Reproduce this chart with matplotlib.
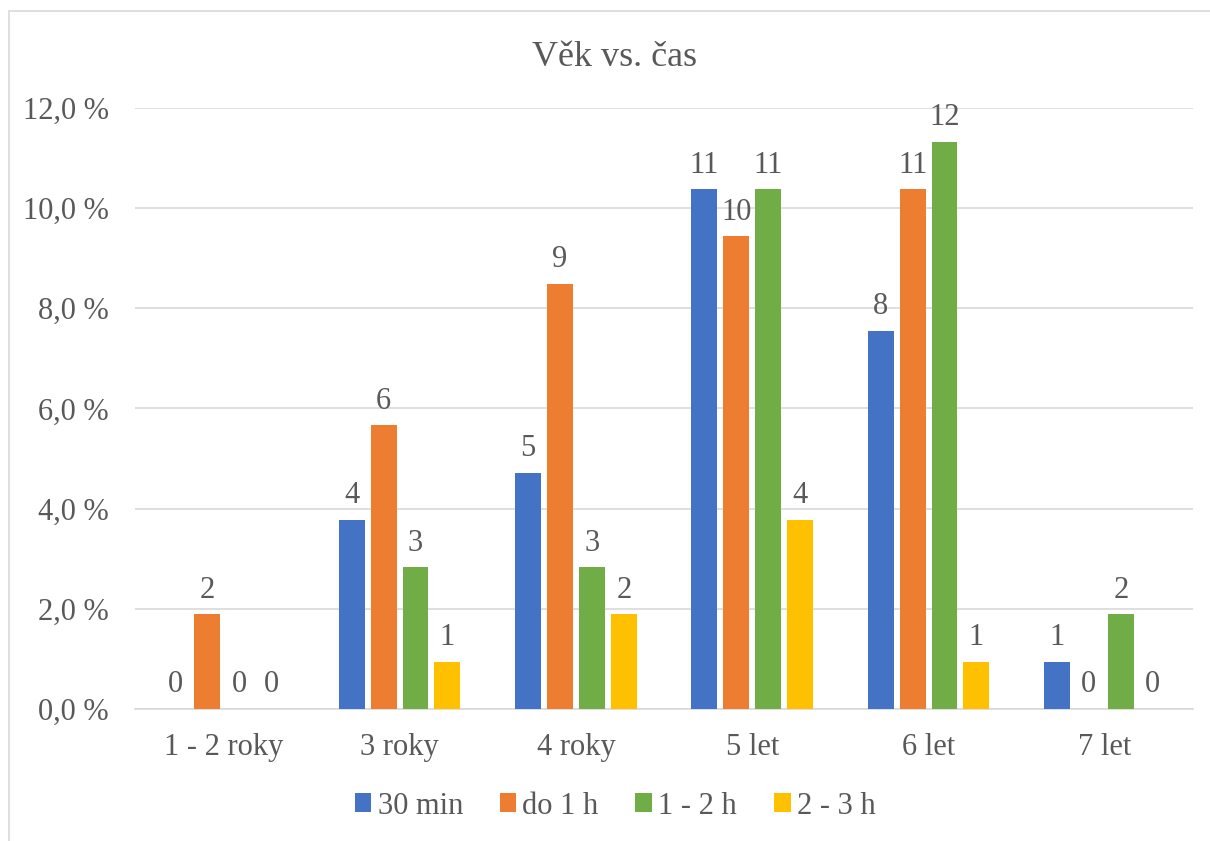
import matplotlib.pyplot as plt
import matplotlib.patches as patches
import numpy as np

plt.rcParams['font.family'] = ['Liberation Serif', 'DejaVu Serif']

# Data
kategorie = ["1 - 2 roky", "3 roky", "4 roky", "5 let", "6 let", "7 let"]
serie = ["30 min", "do 1 h", "1 - 2 h", "2 - 3 h"]
pocty_30min = [0, 4, 5, 11, 8, 1]
pocty_do1h = [2, 6, 9, 10, 11, 0]
pocty_1_2h = [0, 3, 3, 11, 12, 2]
pocty_2_3h = [0, 1, 2, 4, 1, 0]
celkem = 106
barvy = ["#4472C4", "#ED7D31", "#70AD47", "#FFC000"]

pocty = [pocty_30min, pocty_do1h, pocty_1_2h, pocty_2_3h]
text_barva = "#595959"

fig = plt.figure(figsize=(12.1, 8.41), dpi=100)
ax = fig.add_axes([0.1116, 0.157, 0.8744, 0.7146])

# ramecek grafu
fig.patches.append(patches.Rectangle((9 / 1210, -0.1), 1.2, 1 - 11 / 841 + 0.1,
                                     transform=fig.transFigure, fill=False,
                                     edgecolor="#D9D9D9", linewidth=1.2))

x = np.arange(len(kategorie))
sirka = 0.147
krok = 0.181
for i, (p, b, nazev) in enumerate(zip(pocty, barvy, serie)):
    hodnoty = np.array(p) / celkem * 100
    pozice = x + (i - 1.5) * krok
    ax.bar(pozice, hodnoty, width=sirka, color=b, label=nazev, zorder=3)
    for xp, h, n in zip(pozice, hodnoty, p):
        ax.annotate(str(n), (xp, h), xytext=(0, 7), textcoords="offset points",
                    ha="center", va="bottom", fontsize=22, color=text_barva)

ax.set_xlim(-0.5, len(kategorie) - 0.5)
ax.set_ylim(0, 12)
ax.set_yticks(np.arange(0, 12.1, 2))
ax.set_yticklabels([("%.1f %%" % v).replace(".", ",") for v in np.arange(0, 12.1, 2)])
ax.set_xticks(x)
ax.set_xticklabels(kategorie)
ax.tick_params(axis="both", length=0, labelsize=22, labelcolor=text_barva)
ax.tick_params(axis="y", pad=19)
ax.tick_params(axis="x", pad=17)
ax.grid(axis="y", color="#D9D9D9", linewidth=1.2, zorder=0)
for s in ["top", "right", "left"]:
    ax.spines[s].set_visible(False)
ax.spines["bottom"].set_color("#D9D9D9")
ax.spines["bottom"].set_linewidth(1.2)

fig.text(615 / 1210, 1 - 57 / 841, "Věk vs. čas", ha="center", va="center",
         fontsize=26, color=text_barva)

fig.legend(loc="center", bbox_to_anchor=(615 / 1210, 1 - 806 / 841), ncol=4,
           frameon=False, fontsize=22, labelcolor=text_barva,
           handlelength=0.55, handleheight=0.55, handletextpad=0.2,
           columnspacing=1.2)

fig.savefig("out.png", dpi=100)
